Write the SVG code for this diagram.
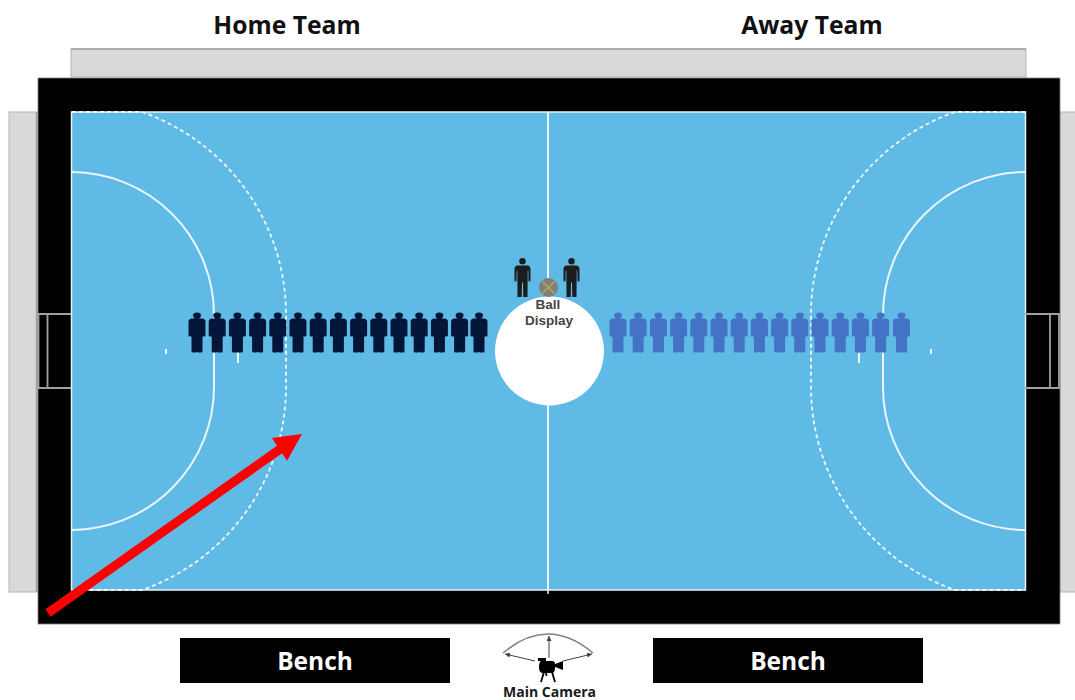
<svg xmlns="http://www.w3.org/2000/svg" width="1075" height="700" viewBox="0 0 1075 700">
<style>
.stand{fill:#d9d9d9;stroke:#b5b5b5;stroke-width:1}
.edge{fill:none;stroke:#a0a0a0;stroke-width:1.500}
.line{fill:none;stroke:#eaf6fb;stroke-width:2}
.dash{fill:none;stroke:#eef8fc;stroke-width:1.800;stroke-dasharray:4 3}
.goal{fill:none;stroke:#a0a0a0;stroke-width:1.800}
text{font-family:"Open Sans","Liberation Sans",sans-serif;text-anchor:middle;font-weight:700}
.title{font-size:24.700px;fill:#111111}
.bench{font-size:24.500px;fill:#ffffff}
.small{font-family:"Liberation Sans",sans-serif;font-size:13.500px;fill:#454545}
.dark{fill:#03163a}.blue{fill:#4472c4}.ref{fill:#1c1c1c}
.cam{stroke:#404040;stroke-width:1;fill:none;marker-end:url(#ah)}
</style>
<defs>
<path id="p" d="M-4-17.500Q-4-20.500 0-20.500Q4-20.500 4-17.500Q4-15.500 2-14.500L5-14.500Q8.500-14.500 8.500-11L8.500 2Q8.500 3.500 7 3.500L5.500 3.500L5.500 18Q5.500 19.500 4 19.500L1 19.500Q0.500 19.500 0 18.500Q-0.500 19.500-1 19.500L-4 19.500Q-5.500 19.500-5.500 18L-5.500 3.500L-7 3.500Q-8.500 3.500-8.500 2L-8.500-11Q-8.500-14.500-5-14.500L-2-14.500Q-4-15.500-4-17.500Z"/>
<path id="r" d="M0-19.500A3.200 3.200 0 1 1 0-13A3.200 3.200 0 1 1 0-19.500ZM-4.500-12L4.500-12Q8-12 8-8.500L8 3Q8 4 7 4Q6 4 6 3L5.800-7L5.200-7L5 19.500L0.800 19.500L0.500 5L-0.500 5L-0.800 19.500L-5 19.500L-5.200-7L-5.800-7L-6 3Q-6 4-7 4Q-8 4-8 3L-8-8.500Q-8-12-4.500-12Z"/>
<marker id="ah" markerWidth="6" markerHeight="6" refX="5" refY="2.500" orient="auto"><path d="M0 0L5 2.500L0 5Z" fill="#404040"/></marker>
</defs>
<rect width="1075" height="700" fill="#ffffff"/>
<g id="title-home"><text class="title" x="287" y="34">Home Team</text></g>
<g id="title-away"><text class="title" x="812" y="34">Away Team</text></g>
<g id="stands">
<rect class="stand" x="71" y="49" width="955" height="28"/>
<rect class="stand" x="9" y="112" width="29" height="480"/>
<rect class="stand" x="1060" y="112" width="20" height="480"/>
<path class="edge" d="M71 49H1026M36.500 112V592"/>
</g>
<g id="court">
<rect x="38" y="78" width="1022" height="546" fill="#000000" stroke="#808080" stroke-width="0.800"/>
<rect x="71.500" y="112" width="954" height="478" fill="#5fbbe6" stroke="#e8f4fa" stroke-width="1.500"/>
<path class="line" d="M548 112V590"/>
<path class="line" d="M72 172A143 143 0 0 1 214 315V387A143 143 0 0 1 72 530"/>
<path class="line" d="M1025 172A143 143 0 0 0 883 315V387A143 143 0 0 0 1025 530"/>
<path class="dash" d="M72 112H142A215 215 0 0 1 286 315V387A215 215 0 0 1 142 590H72"/>
<path class="dash" d="M1025 112H955A215 215 0 0 0 811 315V387A215 215 0 0 0 955 590H1025"/>
<path stroke="#eaf6fb" stroke-width="2" d="M166 349V354M931 349V354M238 353V363M859 353V363"/>
<path stroke="#e8f4fa" stroke-width="1.500" d="M548 590V594"/>
</g>
<g id="goal-left"><path class="goal" d="M71 314H38.500V388H71M47.500 314V388"/></g>
<g id="goal-right"><path class="goal" d="M1025 314H1059V388H1025M1050 314V388"/></g>
<g id="home-team" class="dark">
<use href="#p" x="197" y="333"/><use href="#p" x="217.200" y="333"/><use href="#p" x="237.400" y="333"/><use href="#p" x="257.600" y="333"/><use href="#p" x="277.800" y="333"/><use href="#p" x="298" y="333"/><use href="#p" x="318.200" y="333"/><use href="#p" x="338.400" y="333"/><use href="#p" x="358.600" y="333"/><use href="#p" x="378.800" y="333"/><use href="#p" x="399" y="333"/><use href="#p" x="419.200" y="333"/><use href="#p" x="439.400" y="333"/><use href="#p" x="459.600" y="333"/><use href="#p" x="479" y="333"/>
</g>
<g id="away-team" class="blue">
<use href="#p" x="618" y="333"/><use href="#p" x="638.200" y="333"/><use href="#p" x="658.400" y="333"/><use href="#p" x="678.600" y="333"/><use href="#p" x="698.800" y="333"/><use href="#p" x="719" y="333"/><use href="#p" x="739.200" y="333"/><use href="#p" x="759.400" y="333"/><use href="#p" x="779.600" y="333"/><use href="#p" x="799.800" y="333"/><use href="#p" x="820" y="333"/><use href="#p" x="840.200" y="333"/><use href="#p" x="860.400" y="333"/><use href="#p" x="880.600" y="333"/><use href="#p" x="901.500" y="333"/>
</g>
<g id="ball-display">
<circle cx="549.500" cy="351" r="54.500" fill="#ffffff"/>
<circle cx="548.500" cy="287.500" r="9.500" fill="#7f7f7f"/>
<path d="M542 281L555 294M555 281L542 294" stroke="#bfb04a" stroke-width="1.200"/>
<text class="small"><tspan x="548" y="309">Ball</tspan><tspan x="549" y="324.700">Display</tspan></text>
</g>
<g id="referees" class="ref">
<use href="#r" x="522.500" y="277.500"/>
<use href="#r" x="571.500" y="277.500"/>
</g>
<g id="bench-home"><rect x="180" y="638" width="270" height="45" fill="#000000"/><text class="bench" x="315" y="670">Bench</text></g>
<g id="bench-away"><rect x="653" y="638" width="270" height="45" fill="#000000"/><text class="bench" x="788" y="670">Bench</text></g>
<g id="main-camera">
<path d="M503 653Q548 615 593 653" fill="none" stroke="#808080" stroke-width="1.500"/>
<path class="cam" d="M535 661L505 654"/>
<path class="cam" d="M549 658V636"/>
<path class="cam" d="M563 661L592 654"/>
<path d="M538 658H546V661H552Q555 661 555 664L563 661V670L555 667Q555 673 552 673H543Q539 673 539 667Q539 662 541 661H538Z" fill="#000000"/>
<path d="M544 672L541 682M552 672L555 682M546 672L546.500 676" stroke="#000000" stroke-width="1.800" fill="none"/>
<text x="549.500" y="697" font-size="14" fill="#1a1a1a">Main Camera</text>
</g>
<g id="connectors">
<polygon points="45.400,609.300 50.600,616.700 282.100,453.200 287,460.700 302,434 272,438 276.900,445.800" fill="#ff0000"/>
</g>
</svg>
